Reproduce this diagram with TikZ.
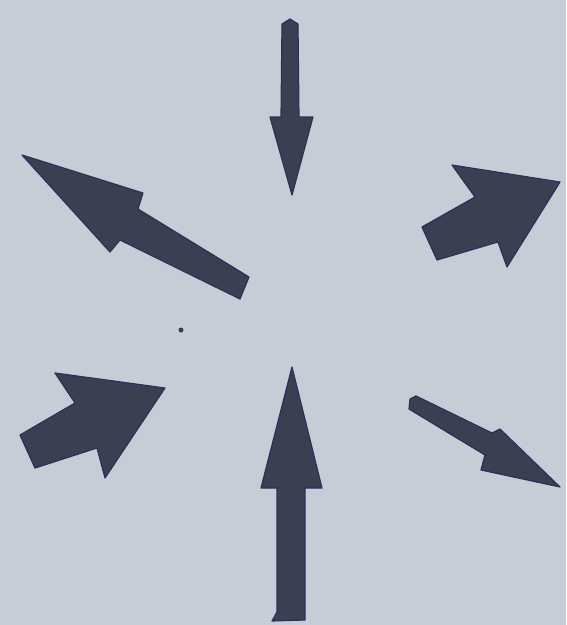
\documentclass[tikz,border=0pt]{standalone}
\begin{document}
\begin{tikzpicture}[x=1pt,y=-1pt,
  arrowshape/.style={fill=arrowfill,draw=arrowedge,line width=1.2pt,line join=round}]
\definecolor{bg}{HTML}{C6CDD7}
\definecolor{arrowfill}{HTML}{3C3E52}
\definecolor{arrowedge}{HTML}{2F2F5C}
\fill[bg] (0,0) rectangle (566,625);
\useasboundingbox (0,0) rectangle (566,625);
% top arrow (pointing down)
\draw[arrowshape] (282,24) -- (290,19) -- (298,24) -- (299,117) -- (313,117) -- (292,195) -- (270,117) -- (281,117) -- cycle;
% bottom arrow (pointing up)
\draw[arrowshape] (292,367) -- (322,488) -- (305,488) -- (305,620) -- (272,621) -- (277,612) -- (277,488) -- (261,488) -- cycle;
% upper-left arrow
\draw[arrowshape] (22,155) -- (143,193) -- (138,209) -- (249,277) -- (240,299) -- (120,240) -- (110,252) -- cycle;
% upper-right arrow
\draw[arrowshape] (560,182) -- (507,267) -- (498,242) -- (437,260) -- (422,227) -- (475,197) -- (452,165) -- cycle;
% lower-left arrow
\draw[arrowshape] (165,388) -- (105,478) -- (97,448) -- (35,468) -- (20,435) -- (75,403) -- (55,373) -- cycle;
% lower-right arrow
\draw[arrowshape] (560,487) -- (481,470) -- (485,455) -- (409,409) -- (410,399) -- (416,396) -- (492,433) -- (500,429) -- cycle;
% small speck
\fill[arrowfill] (181,330) circle (2.5);
\end{tikzpicture}
\end{document}
